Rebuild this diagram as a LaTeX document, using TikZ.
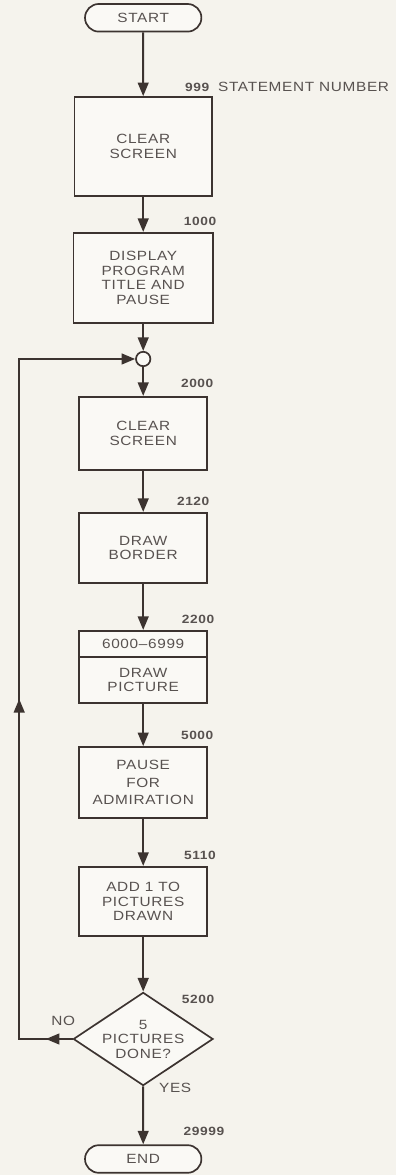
\documentclass[tikz,border=0pt]{standalone}
\usepackage{fontspec}
\setmainfont{Liberation Sans}[FakeStretch=1.15,LetterSpace=5]
\usetikzlibrary{shapes.geometric,shapes.misc,arrows.meta,decorations.markings}
\definecolor{fpaper}{RGB}{245,243,237}
\definecolor{fbox}{RGB}{250,249,245}
\definecolor{fline}{RGB}{60,51,48}
\definecolor{ftext}{RGB}{88,82,80}

\begin{document}
\begin{tikzpicture}[
  font=\fontsize{9.5}{10.3}\selectfont,
  every node/.style={text=ftext},
  stepbox/.style={draw=fline,line width=1.2pt,fill=fbox,align=center,minimum width=3.2cm,inner sep=2pt},
  term/.style={stepbox,rounded rectangle,minimum width=3.05cm,minimum height=0.69cm},
  test/.style={stepbox,diamond,aspect=1.5,inner sep=0pt,minimum width=3.35cm,minimum height=2.15cm},
  merger/.style={draw=fline,line width=1.2pt,fill=fbox,circle,inner sep=0pt,minimum size=0.36cm},
  num/.style={font=\bfseries\fontsize{8.5}{9}\selectfont},
  flow/.style={draw=fline,line width=1.4pt,-{Triangle[length=3.4mm,width=2.7mm]}},
  back/.style={draw=fline,line width=1.4pt,line cap=rect,
    decoration={markings,mark=at position 0.5 with {\arrow{Triangle[length=3.4mm,width=2.7mm]}}},
    postaction={decorate}}]

\fill[fpaper] (0,0) rectangle (9.9,29.375);

% ---- the steps, top to bottom ----
\node[term] (start) at (3.58,28.93) {START};
\node[stepbox,minimum width=3.43cm,minimum height=2.48cm] (clear) at (3.58,25.71) {CLEAR\\SCREEN};
\node[stepbox,minimum width=3.48cm,minimum height=2.25cm] (title) at (3.58,22.43) {DISPLAY\\PROGRAM\\TITLE AND\\PAUSE};
\node[merger] (merge) at (3.58,20.4) {};
\node[stepbox,minimum height=1.83cm] (clearagain) at (3.58,18.54) {CLEAR\\SCREEN};
\node[stepbox,minimum height=1.75cm] (border) at (3.58,15.68) {DRAW\\BORDER};
\node[stepbox,minimum height=0.65cm] (range) at (3.58,13.28) {6000--6999};
\node[stepbox,minimum height=1.15cm] (picture) at (3.58,12.38) {DRAW\\PICTURE};
\node[stepbox,minimum height=1.78cm] (pause) at (3.58,9.81) {PAUSE\\[2pt]FOR\\[2pt]ADMIRATION};
\node[stepbox,minimum height=1.73cm] (count) at (3.58,6.84) {ADD 1 TO\\PICTURES\\DRAWN};
\node[test] (done) at (3.58,3.4) {5\\PICTURES\\DONE?};
\node[term] (end) at (3.58,0.4) {END};

% ---- statement numbers ----
\node[num] (n999) at (4.93,27.2) {999};
\node[anchor=west] (legend) at (5.33,27.2) {STATEMENT NUMBER};
\node[num] (n1000) at (5.0,23.83) {1000};
\node[num] (n2000) at (4.93,19.78) {2000};
\node[num] (n2120) at (4.83,16.83) {2120};
\node[num] (n2200) at (4.95,13.88) {2200};
\node[num] (n5000) at (4.93,11.0) {5000};
\node[num] (n5110) at (5.0,8.0) {5110};
\node[num] (n5200) at (4.95,4.38) {5200};
\node[num] (n29999) at (5.1,1.08) {29999};

% ---- flow ----
\draw[flow] (start) -- (clear);
\draw[flow] (clear) -- (title);
\draw[flow] (title) -- (merge);
\draw[flow] (merge) -- (clearagain);
\draw[flow] (clearagain) -- (border);
\draw[flow] (border) -- (range);
\draw[flow] (picture) -- (pause);
\draw[flow] (pause) -- (count);
\draw[flow] (count) -- (done);
\draw[flow] (done) -- (end);

% ---- back round for the next picture ----
\coordinate (lowleft) at (0.48,3.4);
\coordinate (upleft) at (0.48,20.4);
\draw[back] (done.west) -- (lowleft);
\draw[back] (lowleft) -- (upleft);
\draw[flow] (upleft) -- (merge);

\node (no) at (1.58,3.85) {NO};
\node (yes) at (4.38,2.18) {YES};
\end{tikzpicture}
\end{document}
